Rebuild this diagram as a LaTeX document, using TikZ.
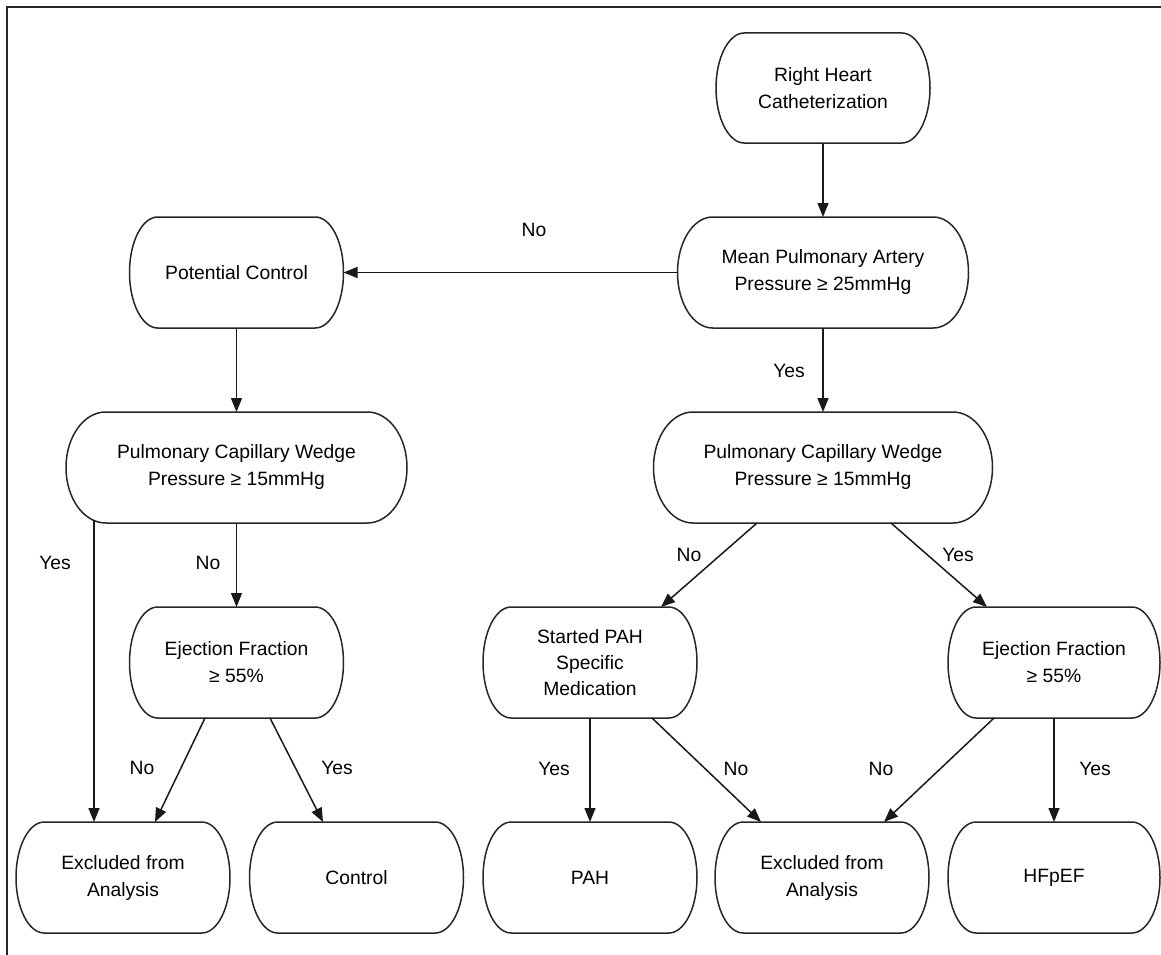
\documentclass[tikz,border=0pt]{standalone}
\usepackage{fontspec}
\setmainfont{Liberation Sans}
\usetikzlibrary{arrows.meta,calc}
\newcommand{\pillshape}[1]{%
  \draw[outline] let \p1=(#1.north west), \p2=(#1.south east),
    \n1={0.09*(\x2-\x1)+9}, \n2={0.776*\y1+0.224*\y2}, \n3={0.5*\y1+0.5*\y2},
    \n4={0.224*\y1+0.776*\y2} in
    ({\x1+\n1},\y1) -- ({\x2-\n1},\y1)
    .. controls ({\x2-0.448*\n1},\y1) and (\x2,{\n2*1pt}) .. (\x2,{\n3*1pt})
    .. controls (\x2,{\n4*1pt}) and ({\x2-0.448*\n1},\y2) .. ({\x2-\n1},\y2)
    -- ({\x1+\n1},\y2)
    .. controls ({\x1+0.448*\n1},\y2) and (\x1,{\n4*1pt}) .. (\x1,{\n3*1pt})
    .. controls (\x1,{\n2*1pt}) and ({\x1+0.448*\n1},\y1) .. cycle;}
\begin{document}
\begin{tikzpicture}[x=1pt,y=-1pt,
  box/.style={rectangle,draw=none,inner sep=0pt,outer sep=0pt,minimum height=111pt,
    align=center,font=\fontsize{19.3}{27}\selectfont},
  sbox/.style={box,minimum width=214pt},
  outline/.style={line width=1.5pt,draw=black!85},
  arr/.style={line width=1.5pt,draw=black!90,-{Triangle[length=14pt,width=11pt]}},
  lbl/.style={inner sep=0pt,font=\fontsize{19.3}{27}\selectfont},
  frame/.style={line width=2pt,draw=black!85}]
\useasboundingbox (0,0) rectangle (1161,955);
\draw[frame] (7,955) -- (7,7) -- (1161,7);
% nodes
\node[sbox,minimum height=110pt] (rhc) at (823,88) {Right Heart\\Catheterization};
\node[box,minimum width=291pt] (mpa) at (823,272.5) {Mean Pulmonary Artery\\Pressure ≥ 25mmHg};
\node[sbox] (pc) at (236.5,272.5) {Potential Control};
\node[box,minimum width=341pt] (pcwpL) at (236.5,467.5) {Pulmonary Capillary Wedge\\Pressure ≥ 15mmHg};
\node[box,minimum width=339pt] (pcwpR) at (823,467.5) {Pulmonary Capillary Wedge\\Pressure ≥ 15mmHg};
\node[sbox] (efL) at (236.5,662.5) {Ejection Fraction\\≥ 55\%};
\node[sbox,font=\fontsize{19.3}{26}\selectfont] (spah) at (590,662.5) {Started PAH\\Specific\\Medication};
\node[sbox,minimum width=212pt] (efR) at (1054,662.5) {Ejection Fraction\\≥ 55\%};
\node[sbox] (exL) at (123,877.5) {Excluded from\\Analysis};
\node[sbox] (ctrl) at (356.5,877.5) {Control};
\node[sbox] (pah) at (590,877.5) {PAH};
\node[sbox] (exM) at (822,877.5) {Excluded from\\Analysis};
\node[sbox,minimum width=212pt] (hf) at (1054,877.5) {HFpEF};
\foreach \nm in {rhc,mpa,pc,pcwpL,pcwpR,efL,spah,efR,exL,ctrl,pah,exM,hf}{\pillshape{\nm}}
% connectors
\draw[arr] (rhc.south) -- (mpa.north);
\draw[arr] (mpa.west) -- (pc.east);
\draw[arr] (pc.south) -- (pcwpL.north);
\draw[arr] (mpa.south) -- (pcwpR.north);
\draw[arr] ([xshift=-142.5pt,yshift=3pt]pcwpL.south) -- ([xshift=-29pt]exL.north);
\draw[arr] (pcwpL.south) -- (efL.north);
\draw[arr] ([xshift=-31.5pt]efL.south) -- ([xshift=32pt]exL.north);
\draw[arr] ([xshift=33.5pt]efL.south) -- ([xshift=-33.5pt]ctrl.north);
\draw[arr] ([xshift=-66pt]pcwpR.south) -- ([xshift=71pt]spah.north);
\draw[arr] ([xshift=68pt]pcwpR.south) -- ([xshift=-67pt]efR.north);
\draw[arr] (spah.south) -- (pah.north);
\draw[arr] ([xshift=62pt]spah.south) -- ([xshift=-61pt]exM.north);
\draw[arr] ([xshift=-60pt]efR.south) -- ([xshift=62pt]exM.north);
\draw[arr] (efR.south) -- (hf.north);
% labels
\node[lbl] (l1) at (534,230) {No};
\node[lbl] (l2) at (789,371) {Yes};
\node[lbl] (l3) at (55,563) {Yes};
\node[lbl] (l4) at (208,563) {No};
\node[lbl] (l5) at (142,768) {No};
\node[lbl] (l6) at (337,768) {Yes};
\node[lbl] (l7) at (689,555) {No};
\node[lbl] (l8) at (958,555) {Yes};
\node[lbl] (l9) at (554,769) {Yes};
\node[lbl] (l10) at (736,769) {No};
\node[lbl] (l11) at (881,769) {No};
\node[lbl] (l12) at (1095,769) {Yes};
\end{tikzpicture}
\end{document}
